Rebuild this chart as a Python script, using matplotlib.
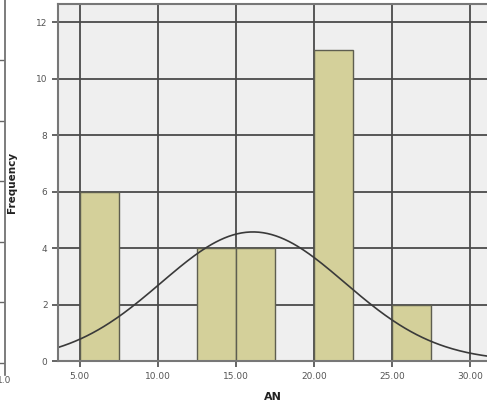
import numpy as np
import matplotlib
matplotlib.use("Agg")
import matplotlib.pyplot as plt

# histogram of AN, bin width 2.5
bin_left = [5.0, 12.5, 15.0, 20.0, 25.0]
counts = [6, 4, 4, 11, 2]
bin_width = 2.5
an_mean = 16.1
an_std = 5.89
x_ticks = [5, 10, 15, 20, 25, 30]
x_labels = ["5.00", "10.00", "15.00", "20.00", "25.00", "30.00"]
y_ticks = [0, 2, 4, 6, 8, 10, 12]

bar_color = "#d4d09a"
grid_color = "#4a4a4a"
text_color = "#555555"

fig = plt.figure(figsize=(4.87, 4.03), dpi=100)
fig.patch.set_facecolor("white")

# neighbouring chart's axis on the far left
side = fig.add_axes([0.0, 0.07, 0.011, 0.93])
side.set_ylim(0, 6.2)
side.set_xlim(0, 1)
for s in ["left", "top", "bottom"]:
    side.spines[s].set_visible(False)
side.spines["right"].set_color("#666666")
side.spines["right"].set_linewidth(1.2)
side.set_xticks([])
side.set_yticks(np.arange(0.2, 6.0, 1.0))
side.set_yticklabels([])
side.tick_params(axis="y", direction="inout", length=6, color="#666666", width=1)
side.patch.set_alpha(0)
fig.text(-0.006, 0.055, "1.0", fontsize=6.5, color=text_color, ha="left", va="center")

ax = fig.add_axes([0.119, 0.104, 0.881, 0.886])
ax.set_facecolor("#efefef")
ax.set_xlim(3.6, 31.1)
ax.set_ylim(0, 12.64)
ax.set_axisbelow(True)
ax.grid(True, color=grid_color, linewidth=1.3)

ax.bar(bin_left, counts, width=bin_width, align="edge", color=bar_color,
       edgecolor="#5e5e50", linewidth=1.0, zorder=3)

xs = np.linspace(3.6, 31.1, 300)
curve = sum(counts) * bin_width / (an_std * np.sqrt(2 * np.pi)) * \
    np.exp(-0.5 * ((xs - an_mean) / an_std) ** 2)
ax.plot(xs, curve, color="#3a3a3a", linewidth=1.2, zorder=4)

ax.set_xticks(x_ticks)
ax.set_xticklabels(x_labels)
ax.set_yticks(y_ticks)
ax.tick_params(axis="both", labelsize=6.5, labelcolor=text_color, color=grid_color,
               length=4, width=1.2)
for s in ["left", "bottom", "top"]:
    ax.spines[s].set_color("#777777")
    ax.spines[s].set_linewidth(1.5)
    ax.spines[s].set_zorder(5)
ax.spines["right"].set_visible(False)

ax.set_xlabel("AN", fontsize=8, fontweight="bold", color="#222222", labelpad=8)
ax.set_ylabel("Frequency", fontsize=7.5, fontweight="bold", color="#222222", labelpad=14)

fig.savefig("out.png", dpi=100)
